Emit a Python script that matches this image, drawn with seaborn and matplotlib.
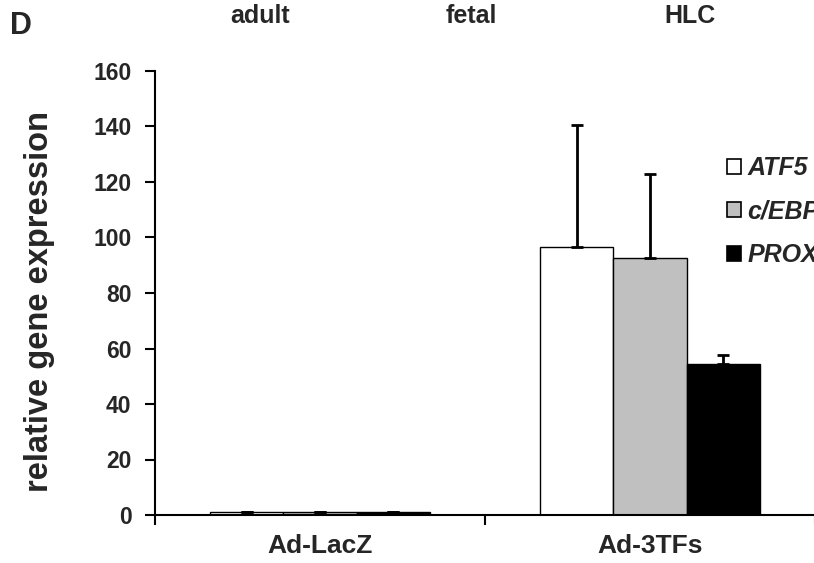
import numpy as np
import pandas as pd
import matplotlib
matplotlib.use("Agg")
import matplotlib.pyplot as plt
import seaborn as sns
from matplotlib.patches import Patch

sns.set_theme(style="white")
plt.rcParams['font.family'] = ['Liberation Sans', 'DejaVu Sans']
plt.rcParams['font.weight'] = 'bold'

groups = ["Ad-LacZ", "Ad-3TFs"]
genes = ["ATF5", "c/EBPα", "PROX1"]
atf5 = [1.0, 96.5]
cebp = [1.0, 92.5]
prox1 = [1.0, 54.3]
atf5_err = [0.2, 44.0]
cebp_err = [0.2, 30.5]
prox1_err = [0.2, 3.5]
colors = ["#ffffff", "#c0c0c0", "#000000"]
top_labels = ["adult", "fetal", "HLC"]
yticks = [0, 20, 40, 60, 80, 100, 120, 140, 160]

rows = []
for g, vals, errs in zip(genes, [atf5, cebp, prox1], [atf5_err, cebp_err, prox1_err]):
    for grp, v, e in zip(groups, vals, errs):
        rows.append({"group": grp, "gene": g, "value": v, "err": e})
df = pd.DataFrame(rows)

fig = plt.figure(figsize=(8.14, 5.63), dpi=100)
ax = fig.add_axes([155 / 814, 48 / 563, 660 / 814, 444 / 563])

sns.barplot(data=df, x="group", y="value", hue="gene", order=groups, hue_order=genes,
            palette=colors, edgecolor="black", linewidth=1.0, width=0.664,
            errorbar=None, ax=ax, legend=False, saturation=1)

for cont, g in zip(ax.containers, genes):
    sub = df[df.gene == g].set_index("group").loc[groups]
    xs = [b.get_x() + b.get_width() / 2 for b in cont]
    hs = [b.get_height() for b in cont]
    ax.errorbar(xs, hs, yerr=[np.zeros(len(xs)), sub["err"].values], fmt="none",
                ecolor="black", elinewidth=2, capsize=4.5, capthick=2, zorder=3)

ax.set_xlim(-0.5, 1.5)
ax.set_ylim(0, 160)
ax.set_yticks(yticks)
ax.set_yticklabels([str(t) for t in yticks], fontsize=16.5, fontweight="bold")
ax.set_xticks([-0.5, 0.5, 1.5])
ax.set_xticklabels([])
ax.set_xticks([0, 1], minor=True)
ax.set_xticklabels(groups, minor=True, fontsize=19, fontweight="bold")
ax.tick_params(axis="x", which="minor", length=0, pad=14)
ax.tick_params(axis="x", which="major", direction="out", length=7, width=1.5, color="black", bottom=True)
ax.tick_params(axis="y", direction="out", length=7, width=1.5, color="black", left=True, pad=10)
ax.set_xlabel("")
ax.set_ylabel("relative gene expression", fontsize=23.5, fontweight="bold")
ax.yaxis.set_label_coords(-0.1515, 0.48)
for s in ["top", "right"]:
    ax.spines[s].set_visible(False)
for s in ["left", "bottom"]:
    ax.spines[s].set_color("black")
    ax.spines[s].set_linewidth(1.5)

handles = [Patch(facecolor=c, edgecolor="black", linewidth=1.2) for c in colors]
leg = fig.legend(handles, genes, loc="upper left", bbox_to_anchor=(727 / 814, 1 - 156 / 563),
                 frameon=False, handlelength=0.56, handleheight=0.56, handletextpad=0.25,
                 labelspacing=0.78, prop={"size": 18, "weight": "bold", "style": "italic"},
                 borderaxespad=0, borderpad=0)

for lbl, x in zip(top_labels, [260, 471, 690]):
    fig.text(x / 814, 1 - 16 / 563, lbl, ha="center", va="center", fontsize=18, fontweight="bold")
fig.text(10 / 814, 1 - 26 / 563, "D", ha="left", va="center", fontsize=22, fontweight="bold")

fig.savefig("out.png", dpi=100)
